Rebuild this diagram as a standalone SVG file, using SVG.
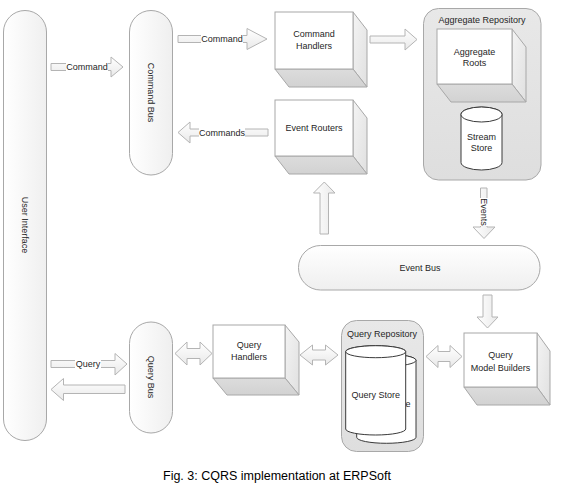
<svg xmlns="http://www.w3.org/2000/svg" width="574" height="488" viewBox="0 0 574 488">
<defs>
<linearGradient id="gBus" x1="0" y1="0" x2="1" y2="0">
<stop offset="0" stop-color="#ffffff"/><stop offset="1" stop-color="#efefef"/>
</linearGradient>
<linearGradient id="gBusH" x1="0" y1="0" x2="0" y2="1">
<stop offset="0" stop-color="#ffffff"/><stop offset="1" stop-color="#efefef"/>
</linearGradient>
<linearGradient id="gArr" x1="0" y1="0" x2="0" y2="1">
<stop offset="0" stop-color="#ffffff"/><stop offset="1" stop-color="#e9e9e9"/>
</linearGradient>
<linearGradient id="gArrV" x1="0" y1="0" x2="1" y2="0">
<stop offset="0" stop-color="#ffffff"/><stop offset="1" stop-color="#e9e9e9"/>
</linearGradient>
<linearGradient id="gSide" x1="0" y1="0" x2="1" y2="1">
<stop offset="0" stop-color="#f4f4f4"/><stop offset="1" stop-color="#e0e0e0"/>
</linearGradient>
<linearGradient id="gBottom" x1="0" y1="0" x2="0" y2="1">
<stop offset="0" stop-color="#dcdcdc"/><stop offset="1" stop-color="#d2d2d2"/>
</linearGradient>
<linearGradient id="gRepo" x1="0" y1="0" x2="0" y2="1">
<stop offset="0" stop-color="#e8e8e8"/><stop offset="1" stop-color="#dedede"/>
</linearGradient>
</defs>
<style>
.bus{fill:url(#gBus);stroke:#a8a8a8;stroke-width:1}
.busH{fill:url(#gBusH);stroke:#a8a8a8;stroke-width:1}
.front{fill:#ffffff;stroke:#a8a8a8;stroke-width:1}
.side{fill:url(#gSide);stroke:#a8a8a8;stroke-width:1}
.bottom{fill:url(#gBottom);stroke:#a8a8a8;stroke-width:1}
.repo{fill:url(#gRepo);stroke:#a8a8a8;stroke-width:1}
.cyl{fill:#ffffff;stroke:#3a3a3a;stroke-width:1}
.arr{fill:url(#gArr);stroke:#b4b4b4;stroke-width:1}
.arrV{fill:url(#gArrV);stroke:#b4b4b4;stroke-width:1}
.lbg{fill:#ffffff}
.t{font-family:"Liberation Sans",Arial,sans-serif;font-size:9px;fill:#262626;text-anchor:middle}
.cap{font-family:"Liberation Sans",Arial,Helvetica,sans-serif;font-size:12.5px;fill:#000000}
</style>

<!-- Connectors -->
<g id="connectors">
  <!-- UI -> Command Bus -->
  <path class="arr" d="M51,63.5 H111 V57 L123,67 L111,77 V70.5 H51 Z"/>
  <rect class="lbg" x="66" y="61" width="42" height="12"/>
  <text class="t" x="87" y="70">Command</text>
  <!-- Command Bus -> Command Handlers -->
  <path class="arr" d="M178,35.5 H247 V28.5 L267,39 L247,49.5 V42.5 H178 Z"/>
  <rect class="lbg" x="201" y="33" width="42" height="12"/>
  <text class="t" x="222" y="42">Command</text>
  <!-- Event Routers -> Command Bus -->
  <path class="arr" d="M268,129 H190 V122 L178,132.5 L190,143 V136 H268 Z"/>
  <rect class="lbg" x="199" y="127" width="46" height="12"/>
  <text class="t" x="222" y="136">Commands</text>
  <!-- Command Handlers -> Aggregate Repository -->
  <path class="arr" d="M370,36 H405 V29 L417,39.5 L405,50 V43 H370 Z"/>
  <!-- Aggregate Repository -> Event Bus (Events) -->
  <path class="arrV" d="M480.5,188 H487 V227 H495 L484,238.5 L473,227 H480.5 Z"/>
  <rect class="lbg" x="479" y="198" width="10" height="28"/>
  <text class="t" transform="translate(484,212) rotate(90)" y="3">Events</text>
  <!-- Event Bus -> Event Routers -->
  <path class="arrV" d="M320,234 V193 H313.5 L324.3,182 L335,193 H328.5 V234 Z"/>
  <!-- Event Bus -> Query Model Builders -->
  <path class="arrV" d="M483,295 H492 V317 H498 L487.5,328 L477,317 H483 Z"/>
  <!-- UI -> Query Bus -->
  <path class="arr" d="M51,360.5 H115 V353.5 L127,364 L115,375 V367.5 H51 Z"/>
  <rect class="lbg" x="75" y="358" width="26" height="12"/>
  <text class="t" x="88" y="367">Query</text>
  <!-- Query Bus -> UI -->
  <path class="arr" d="M125,385 H63.5 V378.5 L51,389.5 L63.5,400.5 V393.5 H125 Z"/>
  <!-- Query Bus <-> Query Handlers -->
  <path class="arr" d="M175,353.5 L187,342 V348.5 H200 V342 L212,353.5 L200,365 V358.5 H187 V365 Z"/>
  <!-- Query Handlers <-> Query Repository -->
  <path class="arr" d="M300,355 L312.5,345 V350 H325.5 V345 L338,355 L325.5,365 V360 H312.5 V365 Z"/>
  <!-- Query Repository <-> Query Model Builders -->
  <path class="arr" d="M426,356.5 L438,345.5 V351.5 H450 V345.5 L462,356.5 L450,367.5 V361.5 H438 V367.5 Z"/>
</g>

<!-- User Interface -->
<g id="user-interface">
  <rect class="bus" x="3.5" y="10.5" width="43" height="430" rx="21.5"/>
  <text class="t" transform="translate(24.5,225) rotate(90)" y="3">User Interface</text>
</g>

<!-- Command Bus -->
<g id="command-bus">
  <rect class="bus" x="129.5" y="10.5" width="43" height="164.5" rx="21.5"/>
  <text class="t" transform="translate(150.5,92.5) rotate(90)" y="3">Command Bus</text>
</g>

<!-- Query Bus -->
<g id="query-bus">
  <rect class="bus" x="129.5" y="322" width="43" height="111" rx="21.5"/>
  <text class="t" transform="translate(150.5,377) rotate(90)" y="3">Query Bus</text>
</g>

<!-- Command Handlers -->
<g id="command-handlers">
  <path class="side" d="M353,12 L367,30 V87 L353,69 Z"/>
  <path class="bottom" d="M275,69 H353 L367,87 H289 Z"/>
  <rect class="front" x="275" y="12" width="78" height="57"/>
  <text class="t" x="314" y="37">Command</text>
  <text class="t" x="314" y="49">Handlers</text>
</g>

<!-- Event Routers -->
<g id="event-routers">
  <path class="side" d="M353,100 L367,118 V174 L353,156 Z"/>
  <path class="bottom" d="M275,156 H353 L367,174 H289 Z"/>
  <rect class="front" x="275" y="100" width="78" height="56"/>
  <text class="t" x="314" y="131">Event Routers</text>
</g>

<!-- Aggregate Repository -->
<g id="aggregate-repository">
  <rect class="repo" x="423.5" y="8.5" width="117.5" height="171.5" rx="15"/>
  <text class="t" x="482" y="23">Aggregate Repository</text>
</g>

<!-- Aggregate Roots -->
<g id="aggregate-roots">
  <path class="side" d="M512,29 L526,47 V102 L512,84 Z"/>
  <path class="bottom" d="M437,84 H512 L526,102 H451 Z"/>
  <rect class="front" x="437" y="29" width="75" height="55"/>
  <text class="t" x="474.5" y="55">Aggregate</text>
  <text class="t" x="474.5" y="66">Roots</text>
</g>

<!-- Stream Store -->
<g id="stream-store">
  <path class="cyl" d="M461,114.5 A20.5,7.5 0 0 1 502,114.5 V162.5 A20.5,7.5 0 0 1 461,162.5 Z"/>
  <ellipse class="cyl" cx="481.5" cy="114.5" rx="20.5" ry="7.5"/>
  <text class="t" x="481.5" y="140">Stream</text>
  <text class="t" x="481.5" y="151">Store</text>
</g>

<!-- Event Bus -->
<g id="event-bus">
  <rect class="busH" x="298.5" y="245.5" width="241.5" height="44.5" rx="22"/>
  <text class="t" x="420" y="270.5">Event Bus</text>
</g>

<!-- Query Handlers -->
<g id="query-handlers">
  <path class="side" d="M285,325 L299,342 V395 L285,378 Z"/>
  <path class="bottom" d="M213,378 H285 L299,395 H227 Z"/>
  <rect class="front" x="213" y="325" width="72" height="53"/>
  <text class="t" x="249" y="348">Query</text>
  <text class="t" x="249" y="360">Handlers</text>
</g>

<!-- Query Repository -->
<g id="query-repository">
  <rect class="repo" x="341.5" y="320.5" width="82" height="131" rx="15"/>
  <text class="t" x="382" y="337">Query Repository</text>
</g>

<!-- Query Store -->
<g id="query-store">
  <path class="cyl" d="M356.7,360.3 A29.65,6 0 0 1 416,360.3 V437.3 A29.65,6 0 0 1 356.7,437.3 Z"/>
  <ellipse class="cyl" cx="386.35" cy="360.3" rx="29.65" ry="6"/>
  <text class="t" x="408" y="406.5" style="text-anchor:middle">e</text>
  <path class="cyl" d="M345.7,351.7 A30,6 0 0 1 405.7,351.7 V429 A30,6 0 0 1 345.7,429 Z"/>
  <ellipse class="cyl" cx="375.7" cy="351.7" rx="30" ry="6"/>
  <text class="t" x="375.7" y="398">Query Store</text>
</g>

<!-- Query Model Builders -->
<g id="query-model-builders">
  <path class="side" d="M537,333 L550,351 V405 L537,387 Z"/>
  <path class="bottom" d="M464,387 H537 L550,405 H477 Z"/>
  <rect class="front" x="464" y="333" width="73" height="54"/>
  <text class="t" x="500.5" y="358">Query</text>
  <text class="t" x="500.5" y="371">Model Builders</text>
</g>

<!-- Caption -->
<text class="cap" x="163" y="480">Fig. 3: CQRS implementation at ERPSoft</text>
</svg>
